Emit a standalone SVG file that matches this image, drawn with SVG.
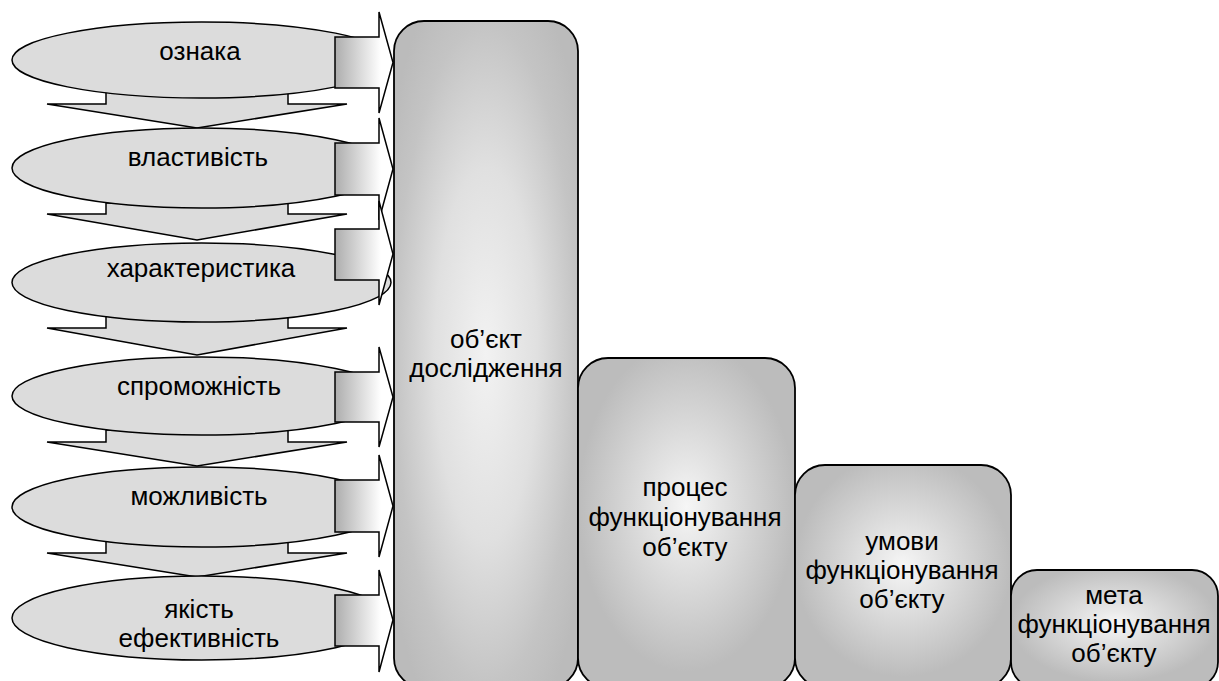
<svg xmlns="http://www.w3.org/2000/svg" width="1219" height="681" viewBox="0 0 1219 681">
<defs>
<linearGradient id="arrowGrad" gradientUnits="userSpaceOnUse" x1="335" y1="0" x2="381" y2="0">
<stop offset="0" stop-color="#adadad"/>
<stop offset="1" stop-color="#ffffff"/>
</linearGradient>
<radialGradient id="boxGrad" cx="0.5" cy="0.5" r="0.62">
<stop offset="0" stop-color="#f2f2f2"/>
<stop offset="0.45" stop-color="#e0e0e0"/>
<stop offset="0.8" stop-color="#c4c4c4"/>
<stop offset="1" stop-color="#bbbbbb"/>
</radialGradient>
<radialGradient id="boxGrad2" cx="0.5" cy="0.45" r="0.5">
<stop offset="0" stop-color="#f6f6f6"/>
<stop offset="0.3" stop-color="#e4e4e4"/>
<stop offset="1" stop-color="#bcbcbc"/>
</radialGradient>
</defs>
<style>
.ell{fill:#dcdcdc;stroke:#000;stroke-width:1.5}
.down{fill:#dcdcdc;stroke:#000;stroke-width:1.5;stroke-linejoin:miter}
.right{fill:url(#arrowGrad);stroke:#000;stroke-width:1.5;stroke-linejoin:miter}
.box{stroke:#000;stroke-width:1.8}
text{font-family:"Liberation Sans",Arial,sans-serif;font-size:26px;fill:#000;text-anchor:middle}
</style>
<g id="connectors">
<polygon class="down" points="106,92 288,92 288,104 347,104 197,128 47,104 106,104"/>
<polygon class="down" points="106,203 288,203 288,214 347,214 197,240 47,214 106,214"/>
<polygon class="down" points="106,316 288,316 288,328 347,328 197,355 47,328 106,328"/>
<polygon class="down" points="106,430 288,430 288,442 347,442 197,466 47,442 106,442"/>
<polygon class="down" points="106,541 288,541 288,553 347,553 197,577 47,553 106,553"/>
</g>
<g id="n-oznaka"><ellipse class="ell" cx="201.5" cy="60" rx="189.5" ry="38"/><text x="200" y="60">ознака</text></g>
<g id="n-vlastyvist"><ellipse class="ell" cx="201.5" cy="168" rx="189.5" ry="40"/><text x="198" y="166">властивість</text></g>
<g id="n-kharakterystyka"><ellipse class="ell" cx="201.5" cy="282.5" rx="189.5" ry="39.5"/><text x="201" y="277">характеристика</text></g>
<g id="n-spromozhnist"><ellipse class="ell" cx="201.5" cy="396" rx="189.5" ry="39"/><text x="199" y="395">спроможність</text></g>
<g id="n-mozhlyvist"><ellipse class="ell" cx="201.5" cy="507" rx="189.5" ry="40"/><text x="199" y="505">можливість</text></g>
<g id="n-yakist"><ellipse class="ell" cx="201.5" cy="618" rx="189.5" ry="42"/><text x="199" y="618">якість</text><text x="199" y="647">ефективність</text></g>
<g id="right-arrows">
<polygon class="right" points="335,37 379,37 379,12 393,62.5 379,113 379,88 335,88"/>
<polygon class="right" points="335,143 379,143 379,118 393,169 379,220 379,195 335,195"/>
<polygon class="right" points="335,229 379,229 379,201 393,254 379,305 379,280 335,280"/>
<polygon class="right" points="335,372 379,372 379,347 393,397 379,447 379,422 335,422"/>
<polygon class="right" points="335,480 379,480 379,455 393,506 379,557 379,532 335,532"/>
<polygon class="right" points="335,595 379,595 379,570 393,620 379,672 379,646 335,646"/>
</g>
<g id="n-obiekt">
<rect class="box" x="394" y="21" width="184" height="667" rx="30" ry="30" fill="url(#boxGrad)"/>
<text x="486" y="348">об’єкт</text><text x="486" y="377">дослідження</text>
</g>
<g id="n-protses">
<rect class="box" x="578" y="358" width="217" height="330" rx="30" ry="30" fill="url(#boxGrad2)"/>
<text x="685" y="496">процес</text><text x="685" y="526">функціонування</text><text x="685" y="556">об’єкту</text>
</g>
<g id="n-umovy">
<rect class="box" x="795" y="465" width="216" height="223" rx="30" ry="30" fill="url(#boxGrad2)"/>
<text x="902" y="550">умови</text><text x="902" y="579">функціонування</text><text x="902" y="608">об’єкту</text>
</g>
<g id="n-meta">
<rect class="box" x="1011" y="570" width="207" height="118" rx="26" ry="26" fill="url(#boxGrad2)"/>
<text x="1114" y="604">мета</text><text x="1114" y="633">функціонування</text><text x="1114" y="662">об’єкту</text>
</g>
</svg>
